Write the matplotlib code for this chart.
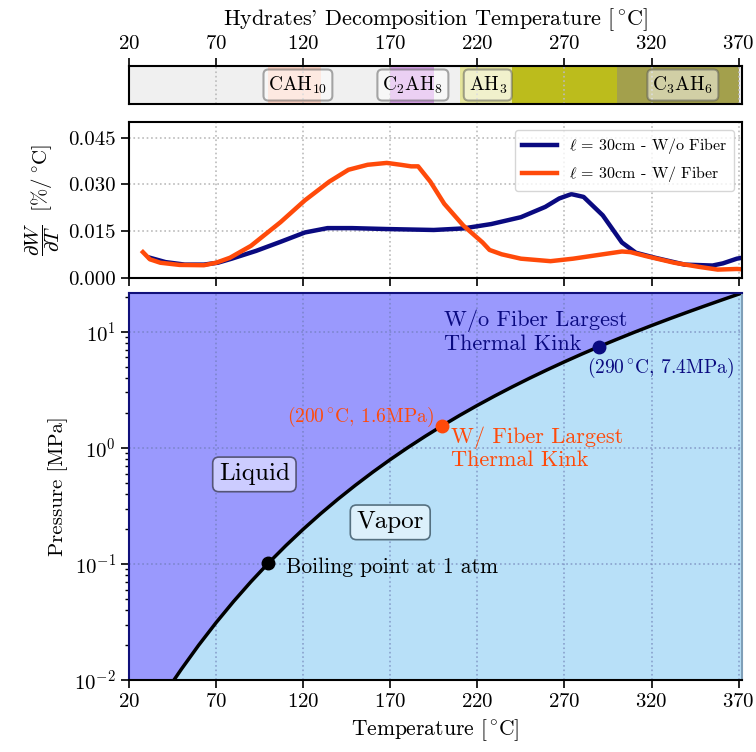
import matplotlib.pyplot as plt

plt.rcParams['font.family'] = 'serif'
plt.rcParams['font.serif'] = ['cmr10']
plt.rcParams['mathtext.fontset'] = 'cm'
plt.rcParams['axes.unicode_minus'] = False
plt.rcParams['axes.formatter.use_mathtext'] = True

# temperature ticks shared by all panels
temp_ticks = [20, 70, 120, 170, 220, 270, 320, 370]

# hydrate decomposition ranges [C]
hydrate_spans = [(100, 130), (170, 195), (210, 240), (240, 300), (300, 370)]
hydrate_colors = ['#fcd3c3', '#d7a2e8', '#e4e49a', '#bcbc1c', '#a3a04c']
hydrate_labels = [r'CAH$_{10}$', r'C$_2$AH$_8$', r'AH$_3$', r'C$_3$AH$_6$']
hydrate_label_x = [117, 183, 226, 338]

# dW/dT curves
T_nofiber = [32, 41, 52, 63, 71, 79, 93, 107, 121, 134, 148, 168, 195, 212, 228,
             245, 259, 267, 274, 281, 292, 303, 311, 322, 339, 355, 361, 369, 372]
dW_nofiber = [0.0065, 0.0051, 0.0043, 0.0043, 0.0049, 0.0062, 0.0087, 0.0116, 0.0146,
              0.0160, 0.0160, 0.0157, 0.0154, 0.0159, 0.0173, 0.0195, 0.0228, 0.0255,
              0.0269, 0.0260, 0.0201, 0.0114, 0.0081, 0.0065, 0.0043, 0.0040, 0.0047,
              0.0062, 0.0065]
T_fiber = [28, 32, 38, 49, 63, 70, 78, 90, 107, 121, 135, 146, 157, 168, 176, 182,
           186, 193, 201, 212, 223, 227, 234, 245, 262, 275, 292, 303, 308, 317, 333,
           347, 358, 369, 372]
dW_fiber = [0.0083, 0.0060, 0.0049, 0.0042, 0.0041, 0.0049, 0.0065, 0.0103, 0.0179,
            0.0249, 0.0309, 0.0347, 0.0363, 0.0369, 0.0363, 0.0358, 0.0358, 0.0309,
            0.0238, 0.0168, 0.0114, 0.0090, 0.0076, 0.0062, 0.0054, 0.0062, 0.0076,
            0.0085, 0.0083, 0.0070, 0.0049, 0.0036, 0.0027, 0.0029, 0.0028]

# water saturation curve (steam tables) [C], [MPa]
T_sat = [40, 45, 50, 60, 70, 80, 90, 100, 110, 120, 130, 140, 150, 160, 170, 180,
         190, 200, 210, 220, 230, 240, 250, 260, 270, 280, 290, 300, 310, 320, 330,
         340, 350, 360, 370, 374]
P_sat = [0.007384, 0.009593, 0.012352, 0.019946, 0.03119, 0.04739, 0.07018, 0.10142,
         0.14338, 0.19867, 0.27028, 0.3615, 0.4758, 0.6178, 0.7917, 1.0021, 1.2544,
         1.5538, 1.9062, 2.318, 2.795, 3.344, 3.973, 4.688, 5.499, 6.416, 7.444, 8.581,
         9.865, 11.284, 12.858, 14.601, 16.529, 18.666, 21.044, 22.064]

# marked points
boil_pt = (100, 0.101)
fiber_pt = (200, 1.55)
nofiber_pt = (290, 7.44)

navy = '#0a0a80'
orange = '#ff4a0a'
xlim = (20, 372)
degC = r'$[^\circ\!\mathrm{C}]$'

fig = plt.figure(figsize=(7.56, 7.52), dpi=100)
ax_band = fig.add_axes([0.1706, 0.8617, 0.811, 0.0505])
ax_mid = fig.add_axes([0.1706, 0.6303, 0.811, 0.2074])
ax_ph = fig.add_axes([0.1706, 0.0957, 0.811, 0.5146])

# --- hydrates band
ax_band.set_facecolor('#f0f0f0')
for (a, b), c in zip(hydrate_spans, hydrate_colors):
    ax_band.axvspan(a, b, color=c, lw=0)
ax_band.set_xlim(xlim)
ax_band.set_ylim(0, 1)
ax_band.set_yticks([])
ax_band.xaxis.tick_top()
ax_band.xaxis.set_label_position('top')
ax_band.set_xticks(temp_ticks)
ax_band.tick_params(axis='x', labelsize=15, length=6, width=1.2)
ax_band.set_xlabel("Hydrates' Decomposition Temperature " + degC, fontsize=16, labelpad=7)
ax_band.grid(axis='x', ls=':', color='#bbbbbb', lw=1.2)
for s in ax_band.spines.values():
    s.set_linewidth(1.5)
for x, lab in zip(hydrate_label_x, hydrate_labels):
    ax_band.text(x, 0.5, lab, ha='center', va='center', fontsize=14,
                 bbox=dict(boxstyle='round,pad=0.25', fc='white', alpha=0.5, ec='#555555', lw=1.5))

# --- derivative curves
ax_mid.plot(T_nofiber, dW_nofiber, color=navy, lw=3.2, label=r'$\ell$ = 30cm - W/o Fiber')
ax_mid.plot(T_fiber, dW_fiber, color=orange, lw=3.2, label=r'$\ell$ = 30cm - W/ Fiber')
ax_mid.set_xlim(xlim)
ax_mid.set_ylim(0, 0.05)
ax_mid.set_xticks(temp_ticks)
ax_mid.set_yticks([0, 0.015, 0.03, 0.045])
ax_mid.set_yticklabels(['0.000', '0.015', '0.030', '0.045'])
ax_mid.tick_params(labelbottom=False, labelsize=15, length=6, width=1.2)
ax_mid.grid(ls=':', color='#bbbbbb', lw=1.2)
ax_mid.set_ylabel(r'$\dfrac{\partial W}{\partial T}\ \ [\%/^\circ\!\mathrm{C}]$', fontsize=15)
for s in ax_mid.spines.values():
    s.set_linewidth(1.5)
ax_mid.legend(loc='upper right', fontsize=11.5, handlelength=2.2, fancybox=True)

# --- phase diagram
ax_ph.set_facecolor('#9a99fd')
ax_ph.fill_between(T_sat, 1e-3, P_sat, color='#b8e0f8', lw=0)
ax_ph.plot(T_sat, P_sat, color='black', lw=2.5)
ax_ph.set_yscale('log')
ax_ph.set_xlim(xlim)
ax_ph.set_ylim(1e-2, 21.5)
ax_ph.set_xticks(temp_ticks)
ax_ph.tick_params(labelsize=15, length=6, width=1.2)
ax_ph.tick_params(which='minor', length=3, width=1)
ax_ph.grid(ls=':', color='#6a78b0', lw=1.2, alpha=0.6)
ax_ph.set_xlabel('Temperature ' + degC, fontsize=15.5)
ax_ph.set_ylabel('Pressure [MPa]', fontsize=15)
for s in ax_ph.spines.values():
    s.set_linewidth(1.5)
ax_ph.spines['left'].set_color('#10107a')
ax_ph.spines['top'].set_color('#10107a')
ax_ph.spines['right'].set_color('#7f9fb8')

ax_ph.plot(*boil_pt, 'o', color='black', ms=9)
ax_ph.plot(*fiber_pt, 'o', color=orange, ms=9)
ax_ph.plot(*nofiber_pt, 'o', color=navy, ms=9)

ax_ph.text(110, 0.093, 'Boiling point at 1 atm', fontsize=15.5, va='center', ha='left')
ax_ph.text(195, 1.84, r'(200$^\circ\!$C, 1.6MPa)', fontsize=14, color=orange, va='center', ha='right')
ax_ph.text(205, 0.99, 'W/ Fiber Largest\nThermal Kink', fontsize=16, color=orange,
           va='center', ha='left', linespacing=1.15)
ax_ph.text(201, 10.0, 'W/o Fiber Largest\nThermal Kink', fontsize=16, color=navy,
           va='center', ha='left', linespacing=1.15)
ax_ph.text(283, 4.9, r'(290$^\circ\!$C, 7.4MPa)', fontsize=14, color=navy, va='center', ha='left')
ax_ph.text(92, 0.59, 'Liquid', fontsize=18, ha='center', va='center',
           bbox=dict(boxstyle='round,pad=0.25', fc='#ccccff', ec='#555577', lw=1.2))
ax_ph.text(170, 0.228, 'Vapor', fontsize=18, ha='center', va='center',
           bbox=dict(boxstyle='round,pad=0.25', fc='#dcf0fb', ec='#557080', lw=1.2))

fig.savefig('out.png', dpi=100)
